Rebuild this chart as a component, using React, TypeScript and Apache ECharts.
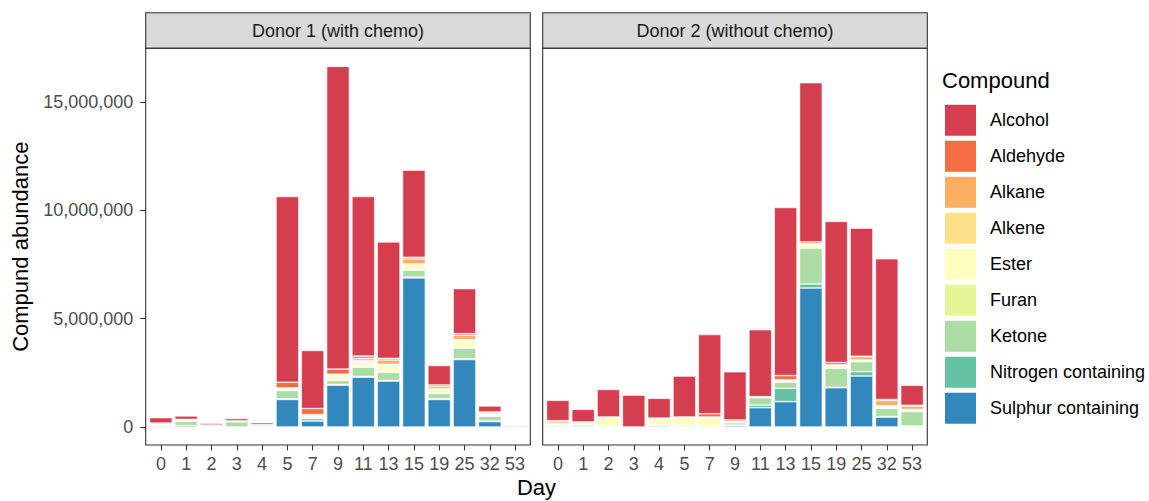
import React, { useEffect, useRef } from "react";
import * as echarts from "echarts";

const days = ["0", "1", "2", "3", "4", "5", "7", "9", "11", "13", "15", "19", "25", "32", "53"];
const compounds = ["Alcohol", "Aldehyde", "Alkane", "Alkene", "Ester", "Furan", "Ketone", "Nitrogen containing", "Sulphur containing"];
const compoundColors = ["#D53E4F", "#F46D43", "#FDAE61", "#FEE08B", "#FFFFBF", "#E6F598", "#ABDDA4", "#66C2A5", "#3288BD"];
const panelTitles = ["Donor 1 (with chemo)", "Donor 2 (without chemo)"];
const yTickValues = [0, 5000000, 10000000, 15000000];

// Donor 1 (with chemo), values in thousands
const d1Alcohol = [250, 160, 80, 110, 90, 8570, 2680, 13970, 7360, 5370, 4020, 900, 2080, 280, 50];
const d1Aldehyde = [50, 10, 50, 10, 40, 260, 276, 230, 107, 77, 77, 77, 77, 40, 0];
const d1Alkane = [30, 20, 30, 0, 20, 40, 40, 60, 100, 200, 230, 107, 199, 60, 0];
const d1Alkene = [10, 20, 10, 10, 0, 30, 30, 50, 77, 30, 60, 30, 50, 30, 0];
const d1Ester = [20, 20, 0, 10, 0, 30, 40, 153, 199, 307, 199, 153, 307, 50, 0];
const d1Furan = [10, 10, 0, 10, 0, 20, 20, 30, 30, 30, 30, 30, 30, 20, 0];
const d1Ketone = [60, 210, 0, 240, 10, 383, 60, 184, 429, 383, 322, 230, 491, 215, 0];
const d1Nitrogen = [0, 0, 0, 0, 0, 30, 107, 30, 30, 20, 30, 40, 40, 30, 0];
const d1Sulphur = [0, 60, 0, 0, 40, 1270, 276, 1930, 2300, 2120, 6880, 1270, 3110, 245, 0];

// Donor 2 (without chemo), values in thousands
const d2Alcohol = [940, 583, 1270, 1470, 910, 1890, 3650, 2220, 3090, 7750, 7340, 6510, 5910, 6490, 920];
const d2Aldehyde = [50, 20, 0, 0, 10, 0, 153, 77, 10, 199, 77, 107, 20, 50, 40];
const d2Alkane = [90, 60, 10, 0, 20, 10, 20, 20, 10, 40, 40, 30, 153, 240, 150];
const d2Alkene = [30, 20, 10, 0, 10, 10, 10, 10, 10, 20, 30, 20, 30, 40, 30];
const d2Ester = [20, 20, 410, 0, 280, 370, 420, 10, 10, 20, 123, 92, 30, 60, 40];
const d2Furan = [10, 10, 10, 0, 10, 10, 10, 10, 10, 20, 20, 20, 20, 20, 20];
const d2Ketone = [70, 80, 20, 0, 80, 60, 0, 107, 337, 291, 1660, 874, 460, 380, 670];
const d2Nitrogen = [20, 20, 0, 0, 0, 0, 0, 30, 123, 613, 184, 20, 199, 20, 20];
const d2Sulphur = [0, 0, 0, 0, 0, 0, 0, 60, 889, 1170, 6410, 1810, 2350, 460, 30];

const donor1 = [d1Alcohol, d1Aldehyde, d1Alkane, d1Alkene, d1Ester, d1Furan, d1Ketone, d1Nitrogen, d1Sulphur];
const donor2 = [d2Alcohol, d2Aldehyde, d2Alkane, d2Alkene, d2Ester, d2Furan, d2Ketone, d2Nitrogen, d2Sulphur];

const FONT = "'Liberation Sans', Arial, Helvetica, sans-serif";

export default function App() {
  const ref = useRef<HTMLDivElement>(null);
  useEffect(() => {
    if (!ref.current) return;
    const chart = echarts.init(ref.current, null, { renderer: "svg" });

    const totals = [donor1, donor2].map((d) =>
      days.map((_, i) => d.reduce((s, arr) => s + arr[i] * 1000, 0))
    );
    const dmax = Math.max(...totals[0], ...totals[1]);
    const yMin = -0.05 * dmax;
    const yMax = 1.05 * dmax;

    const panelW = 384.6;
    const gridTop = 48.3;
    const gridH = 396.7;
    const lefts = [145.7, 542.7];
    // ggplot discrete expansion of 0.6 units on each side
    const unit = panelW / (days.length - 1 + 1.2);
    const pad = 0.1 * unit;

    const grids = lefts.map((l) => ({
      left: l + pad,
      top: gridTop,
      width: unit * days.length,
      height: gridH,
      show: false,
    }));

    const xAxes = lefts.map((_, gi) => ({
      type: "category",
      gridIndex: gi,
      data: days,
      boundaryGap: true,
      splitLine: { show: false },
      axisLine: { show: false, onZero: false },
      axisTick: {
        show: true,
        alignWithLabel: true,
        length: 5.5,
        lineStyle: { color: "#333333", width: 1.1 },
      },
      axisLabel: {
        show: true,
        interval: 0,
        margin: 10,
        color: "#4d4d4d",
        fontSize: 18,
        fontFamily: FONT,
      },
    }));

    const yAxes = lefts.map((_, gi) => ({
      type: "value",
      gridIndex: gi,
      min: yMin,
      max: yMax,
      offset: pad,
      splitLine: { show: false },
      axisLine: { show: false, onZero: false },
      axisTick: {
        show: gi === 0,
        length: 5.5,
        lineStyle: { color: "#333333", width: 1.1 },
        customValues: yTickValues,
      },
      axisLabel: {
        show: gi === 0,
        margin: 12.4,
        color: "#4d4d4d",
        fontSize: 18,
        fontFamily: FONT,
        customValues: yTickValues,
        formatter: (v: number) => v.toLocaleString("en-US"),
      },
    }));

    const series: any[] = [];
    [donor1, donor2].forEach((donor, gi) => {
      // stack bottom to top: reverse of legend order
      for (let c = compounds.length - 1; c >= 0; c--) {
        series.push({
          type: "bar",
          name: compounds[c],
          xAxisIndex: gi,
          yAxisIndex: gi,
          stack: "donor" + gi,
          barWidth: "90%",
          itemStyle: { color: compoundColors[c], borderColor: "#ffffff", borderWidth: 0.6 },
          data: donor[c].map((v) => (v > 0 ? v * 1000 : "-")),
        });
      }
    });

    const graphics: any[] = [];
    lefts.forEach((l, gi) => {
      graphics.push({
        type: "rect",
        shape: { x: l, y: gridTop, width: panelW, height: gridH },
        style: { fill: "none", stroke: "#333333", lineWidth: 1.1 },
        z: 10,
      });
      graphics.push({
        type: "rect",
        shape: { x: l, y: 12.7, width: panelW, height: gridTop - 12.7 },
        style: { fill: "#d9d9d9", stroke: "#333333", lineWidth: 1.1 },
      });
      graphics.push({
        type: "text",
        x: l + panelW / 2,
        y: (12.7 + gridTop) / 2,
        style: {
          text: panelTitles[gi],
          fill: "#1a1a1a",
          font: `18px ${FONT}`,
          textAlign: "center",
          textVerticalAlign: "middle",
        },
      });
    });
    graphics.push({
      type: "text",
      x: (lefts[0] + lefts[1] + panelW) / 2,
      y: 487,
      style: { text: "Day", fill: "#000000", font: `22px ${FONT}`, textAlign: "center", textVerticalAlign: "middle" },
    });
    graphics.push({
      type: "text",
      x: 20,
      y: gridTop + gridH / 2,
      rotation: Math.PI / 2,
      style: { text: "Compund abundance", fill: "#000000", font: `22px ${FONT}`, textAlign: "center", textVerticalAlign: "middle" },
    });
    graphics.push({
      type: "text",
      x: 942,
      y: 80,
      style: { text: "Compound", fill: "#000000", font: `22px ${FONT}`, textAlign: "left", textVerticalAlign: "middle" },
    });

    chart.setOption({
      animation: false,
      backgroundColor: "#ffffff",
      grid: grids,
      xAxis: xAxes,
      yAxis: yAxes,
      series,
      legend: {
        orient: "vertical",
        left: 943,
        top: 102.7,
        padding: 0,
        itemWidth: 33,
        itemHeight: 33,
        itemGap: 1,
        icon: "rect",
        data: compounds,
        selectedMode: false,
        textStyle: { color: "#000000", fontSize: 18, fontFamily: FONT, padding: [0, 0, 0, 8] },
      },
      graphic: graphics,
    });

    return () => chart.dispose();
  }, []);

  return (
    <div
      ref={ref}
      style={{ position: "fixed", left: 0, top: 0, width: 1149, height: 501, background: "#fff" }}
    />
  );
}
